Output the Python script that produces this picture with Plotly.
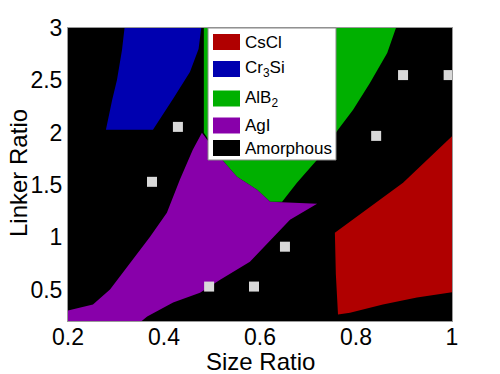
import plotly.graph_objects as go

# ---- data ----
cscl_x = [0.756, 0.85, 0.898, 1.01, 1.01, 0.927, 0.856, 0.7875, 0.7625, 0.758]
cscl_y = [1.044, 1.359, 1.521, 2.01, 0.481, 0.424, 0.357, 0.280, 0.261, 0.65]

cr3si_x = [0.319, 0.3125, 0.302, 0.292, 0.279, 0.377, 0.420, 0.454, 0.472, 0.479]
cr3si_y = [3.05, 2.79, 2.504, 2.313, 2.027, 2.027, 2.33, 2.58, 2.80, 3.05]

alb2_x = [0.483, 0.887, 0.865, 0.829, 0.794, 0.7625, 0.719, 0.677, 0.646, 0.621, 0.594, 0.552, 0.521, 0.483]
alb2_y = [3.05, 3.05, 2.761, 2.475, 2.218, 2.027, 1.740, 1.521, 1.340, 1.340, 1.454, 1.578, 1.740, 2.0]

agi_x = [0.479, 0.521, 0.552, 0.594, 0.621, 0.719, 0.6625, 0.579, 0.517, 0.475, 0.419, 0.365, 0.340,
         0.19, 0.19, 0.252, 0.2875, 0.335, 0.371, 0.406, 0.433, 0.46]
agi_y = [2.0, 1.740, 1.578, 1.454, 1.340, 1.321, 1.168, 0.767, 0.595, 0.471, 0.376, 0.242, 0.15,
         0.15, 0.29, 0.357, 0.5, 0.786, 1.006, 1.235, 1.55, 1.836]

sim_x = [0.375, 0.429, 0.494, 0.5875, 0.652, 0.842, 0.898, 0.993]
sim_y = [1.53, 2.055, 0.529, 0.529, 0.910, 1.969, 2.55, 2.55]

phase_names = ["CsCl", "Cr<sub>3</sub>Si", "AlB<sub>2</sub>", "AgI", "Amorphous"]
phase_colors = ["#b00000", "#0000b0", "#00b000", "#8800aa", "#000000"]

x_ticks = [0.2, 0.4, 0.6, 0.8, 1.0]
x_ticktext = ["0.2", "0.4", "0.6", "0.8", "1"]
y_ticks = [0.5, 1, 1.5, 2, 2.5, 3]
y_ticktext = ["0.5", "1", "1.5", "2", "2.5", "3"]

x_title = "Size Ratio"
y_title = "Linker Ratio"

FONT = "Arial, Liberation Sans, sans-serif"

fig = go.Figure()
for xs, ys, c in [(alb2_x, alb2_y, phase_colors[2]),
                  (cr3si_x, cr3si_y, phase_colors[1]),
                  (agi_x, agi_y, phase_colors[3]),
                  (cscl_x, cscl_y, phase_colors[0])]:
    fig.add_trace(go.Scatter(x=xs + [xs[0]], y=ys + [ys[0]], mode="lines", fill="toself",
                             fillcolor=c, line=dict(width=0, color=c), showlegend=False,
                             hoverinfo="skip"))

fig.add_trace(go.Scatter(x=sim_x, y=sim_y, mode="markers",
                         marker=dict(symbol="square", size=10, color="#d9d9d9", line=dict(width=0)),
                         showlegend=False))

# plot area in pixels
L, R, T, B = 68, 452, 28, 321
def px(x):
    return (x - L) / (R - L)
def py(y):
    return (B - y) / (B - T)

shapes = [dict(type="rect", xref="paper", yref="paper", x0=px(208), x1=px(336), y0=py(160), y1=py(28),
               fillcolor="white", line=dict(color="#888888", width=1), layer="above")]
annotations = []
row_y = [42, 69, 98.5, 125.5, 148]
for name, col, ry in zip(phase_names, phase_colors, row_y):
    shapes.append(dict(type="rect", xref="paper", yref="paper", x0=px(213), x1=px(240),
                       y0=py(ry + 8), y1=py(ry - 8), fillcolor=col, line=dict(width=0), layer="above"))
    annotations.append(dict(xref="paper", yref="paper", x=px(243), y=py(ry), text=name,
                            showarrow=False, xanchor="left", yanchor="middle",
                            font=dict(family=FONT, size=17, color="black")))

annotations.append(dict(xref="paper", yref="paper", x=px(260), y=py(361), text=x_title,
                        showarrow=False, xanchor="center", yanchor="middle",
                        font=dict(family=FONT, size=24, color="black")))
annotations.append(dict(xref="paper", yref="paper", x=px(18), y=py(173), text=y_title, textangle=-90,
                        showarrow=False, xanchor="center", yanchor="middle",
                        font=dict(family=FONT, size=24, color="black")))

fig.update_layout(
    width=500, height=374,
    margin=dict(l=L, r=500 - R, t=T, b=374 - B, autoexpand=False),
    paper_bgcolor="white", plot_bgcolor="black",
    shapes=shapes, annotations=annotations,
    font=dict(family=FONT, color="black"),
    xaxis=dict(range=[0.2, 1.0], tickvals=x_ticks, ticktext=x_ticktext, showgrid=False, zeroline=False,
               tickfont=dict(size=23), automargin=False, ticklabelstandoff=-5,
               showline=True, linecolor="#999999", linewidth=1, mirror=True, ticks=""),
    yaxis=dict(range=[0.2, 3.0], tickvals=y_ticks, ticktext=y_ticktext, showgrid=False, zeroline=False,
               tickfont=dict(size=23), automargin=False,
               showline=True, linecolor="#999999", linewidth=1, mirror=True, ticks=""),
)

fig.write_html("out.html", config={"displayModeBar": False},
               post_script="document.body.style.margin='0px';document.body.style.overflow='hidden';")
